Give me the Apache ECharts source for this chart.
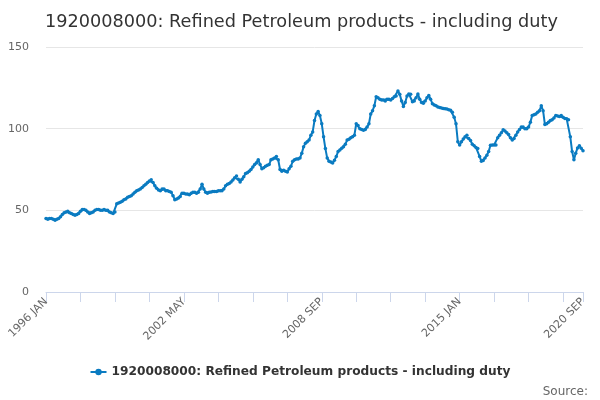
<!DOCTYPE html>
<html>
<head>
<meta charset="utf-8">
<script src="https://cdn.jsdelivr.net/npm/echarts@6/dist/echarts.min.js"></script>
<style>html,body{margin:0;padding:0;background:#fff}#c{width:600px;height:400px}</style>
</head>
<body>
<div id="c"></div>
<script>
var years = [1996,1997,1998,1999,2000,2001,2002,2003,2004,2005,2006,2007,2008,2009,2010,2011,2012,2013,2014,2015,2016,2017,2018,2019,2020];
var months = ['JAN','FEB','MAR','APR','MAY','JUN','JUL','AUG','SEP','OCT','NOV','DEC'];
var v1996 = [45,44.5,45,45,44.5,44,44.5,45,46,47.5,48.5,49];
var v1997 = [49.5,48.5,48,47.5,47,47.5,48,49.5,50.5,50.5,50,49];
var v1998 = [48,48.5,49,50,50.5,50.5,50,50,50.5,50,50,49];
var v1999 = [48.5,48,49,54,54.5,55,55.5,56.5,57,58,58.5,59];
var v2000 = [60,61,62,62.5,63,64,65,66,67,68,68.8,67];
var v2001 = [65,63.5,62.5,62,63,63,62,62,61.5,61,59,56.5];
var v2002 = [57,57.5,58.5,60.5,60.5,60,60,59.5,60.5,61,61,60.5];
var v2003 = [61,63,66,63,61,60.5,61,61.3,61.5,61.5,61.5,62];
var v2004 = [62,62,63,65,66,66.5,67.4,68.5,70,71,69,67.4];
var v2005 = [69,70.5,72.5,73,74,75,76.5,78,79,81,78,75.5];
var v2006 = [76,77,77.6,78,81,81.5,82,83,81,75,74,74.5];
var v2007 = [74,73.5,75.5,77,80,81,81.5,81.5,82,85,89,91];
var v2008 = [92,93,96,98,105,109,110.5,108,103,95,87.8,82];
var v2009 = [80,79.6,79,80.6,83,86,87,88,89,90.5,93,93.5];
var v2010 = [94.5,95,96,103,102,100,99.5,99,99.5,101,103,109];
var v2011 = [111,114,119.5,119,118,117.5,117.5,117,118,118,117.5,118.5];
var v2012 = [119.5,120,123,121,117,113.6,116,120,121.3,121,116.5,117];
var v2013 = [119,121.3,118,116,115.6,117,119,120.3,118,115.3,114.5,114];
var v2014 = [113.2,113,112.6,112.4,112.2,112,111.6,111.2,110,107,103,92];
var v2015 = [90,92,93.6,95,96,94,92.7,90.5,89.5,88.5,87.8,83];
var v2016 = [80,80.5,82,83.7,86,89.8,90,90,90,94.5,96,97.5];
var v2017 = [99.3,98.5,97.5,96.5,94.5,93,94,96,98,99.5,101,101];
var v2018 = [100,100,101,104,108,108.5,109,110,111,114,111,102.5];
var v2019 = [103,104,105,105.5,106.5,108,107.7,107.5,108,107,106.3,106];
var v2020 = [105.5,95,86,81,85,88.2,89.5,88,86.5];

var values = [].concat(v1996,v1997,v1998,v1999,v2000,v2001,v2002,v2003,v2004,v2005,v2006,v2007,v2008,v2009,v2010,v2011,v2012,v2013,v2014,v2015,v2016,v2017,v2018,v2019,v2020);
var categories = [];
years.forEach(function(y){ months.forEach(function(m){ categories.push(y + ' ' + m); }); });
categories = categories.slice(0, values.length);
var lastIdx = categories.length - 1;
var yTicks = [0, 50, 100, 150];
var seriesName = '1920008000: Refined Petroleum products - including duty';

var chart = echarts.init(document.getElementById('c'));
chart.setOption({
  animation: false,
  title: [{
    text: '1920008000: Refined Petroleum products - including duty',
    left: 40, top: 8,
    textStyle: {fontFamily: 'DejaVu Sans', fontSize: 17.7, fontWeight: 'normal', color: '#333333'}
  }, {
    text: 'Source:',
    right: 7, top: 381,
    textStyle: {fontFamily: 'DejaVu Sans', fontSize: 12, fontWeight: 'normal', color: '#666666'}
  }],
  legend: {
    data: [seriesName],
    bottom: 17, left: 'center',
    itemWidth: 16, itemHeight: 8, itemGap: 5,
    textStyle: {fontFamily: 'DejaVu Sans', fontSize: 12.2, fontWeight: 'bold', color: '#333333'}
  },
  grid: {left: 46, right: 17, top: 47, bottom: 108, containLabel: false},
  xAxis: {
    type: 'category',
    data: categories,
    boundaryGap: false,
    axisLine: {lineStyle: {color: '#ccd6eb'}},
    axisTick: {
      length: 10,
      lineStyle: {color: '#ccd6eb'},
      interval: function(i){ return i % 19 === 0 || i === lastIdx; }
    },
    axisLabel: {
      rotate: 45,
      color: '#666666',
      fontFamily: 'DejaVu Sans',
      fontSize: 11,
      margin: 8,
      interval: function(i){ return i % 76 === 0 || i === lastIdx; }
    },
    splitLine: {show: false}
  },
  yAxis: {
    type: 'value',
    min: yTicks[0], max: yTicks[yTicks.length-1], interval: 50,
    axisLine: {show: false},
    axisTick: {show: false},
    axisLabel: {color: '#666666', fontFamily: 'DejaVu Sans', fontSize: 11, margin: 17},
    splitLine: {lineStyle: {color: '#e6e6e6'}}
  },
  series: [{
    name: seriesName,
    type: 'line',
    data: values,
    symbol: 'circle',
    symbolSize: 3.5,
    showAllSymbol: true,
    lineStyle: {color: '#0a7bc1', width: 2},
    itemStyle: {color: '#0a7bc1'}
  }]
});
</script>
</body>
</html>
